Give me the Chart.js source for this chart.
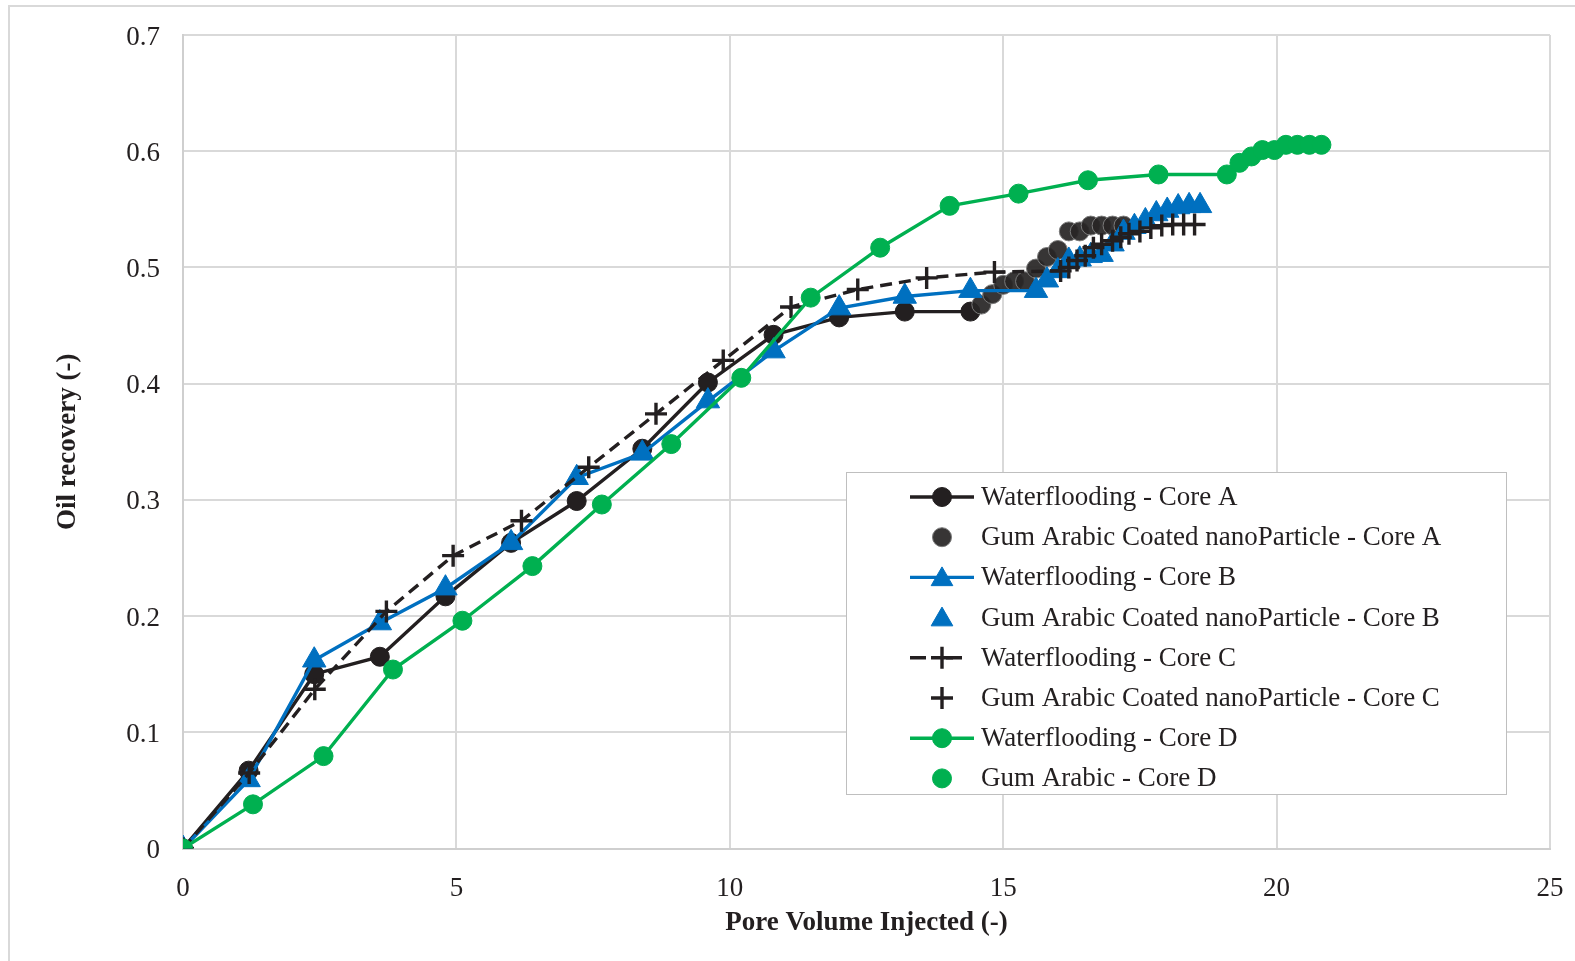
<!DOCTYPE html>
<html>
<head>
<meta charset="utf-8">
<title>Oil recovery vs pore volume injected</title>
<script src="https://cdn.jsdelivr.net/npm/chart.js@4.4.1/dist/chart.umd.min.js"></script>
<style>
    html, body { margin: 0; padding: 0; background: #ffffff; }
    #grafico { display: block; }
</style>
</head>
<body>
<canvas id="grafico" width="1575" height="961"></canvas>
<script>
// series labels (legend order)
const etiquetas = [
    "Waterflooding - Core A",
    "Gum Arabic Coated nanoParticle - Core A",
    "Waterflooding - Core B",
    "Gum Arabic Coated nanoParticle - Core B",
    "Waterflooding - Core C",
    "Gum Arabic Coated nanoParticle - Core C",
    "Waterflooding - Core D",
    "Gum Arabic - Core D"
];

// Core A
const wfA_x = [0, 1.2, 2.4, 3.6, 4.8, 6.0, 7.2, 8.4, 9.6, 10.8, 12.0, 13.2, 14.4];
const wfA_y = [0, 0.067, 0.150, 0.165, 0.217, 0.263, 0.299, 0.344, 0.401, 0.442, 0.457, 0.462, 0.462];
const gaA_x = [14.6, 14.8, 15.0, 15.2, 15.4, 15.6, 15.8, 16.0, 16.2, 16.4, 16.6, 16.8, 17.0, 17.2];
const gaA_y = [0.468, 0.477, 0.485, 0.488, 0.488, 0.499, 0.509, 0.515, 0.531, 0.531, 0.536, 0.536, 0.536, 0.536];

// Core B
const wfB_x = [0, 1.2, 2.4, 3.6, 4.8, 6.0, 7.2, 8.4, 9.6, 10.8, 12.0, 13.2, 14.4, 15.6];
const wfB_y = [0, 0.059, 0.162, 0.194, 0.224, 0.263, 0.319, 0.340, 0.385, 0.428, 0.465, 0.475, 0.480, 0.480];
const gaB_x = [15.8, 16.0, 16.2, 16.4, 16.6, 16.8, 17.0, 17.2, 17.4, 17.6, 17.8, 18.0, 18.2, 18.4, 18.6];
const gaB_y = [0.489, 0.497, 0.506, 0.507, 0.510, 0.511, 0.520, 0.530, 0.535, 0.540, 0.546, 0.549, 0.552, 0.553, 0.553];

// Core C
const wfC_x = [0, 1.21, 2.41, 3.72, 4.94, 6.19, 7.42, 8.65, 9.88, 11.12, 12.34, 13.6, 14.84, 16.05];
const wfC_y = [0, 0.065, 0.137, 0.204, 0.252, 0.282, 0.328, 0.374, 0.420, 0.466, 0.481, 0.491, 0.496, 0.497];
const gaC_x = [16.2, 16.35, 16.5, 16.65, 16.8, 17.0, 17.15, 17.3, 17.5, 17.7, 17.9, 18.1, 18.3, 18.5];
const gaC_y = [0.500, 0.506, 0.510, 0.517, 0.520, 0.523, 0.526, 0.529, 0.531, 0.534, 0.536, 0.537, 0.537, 0.537];

// Core D
const wfD_x = [0, 1.28, 2.57, 3.84, 5.11, 6.39, 7.66, 8.93, 10.21, 11.48, 12.75, 14.02, 15.28, 16.55, 17.84, 19.09];
const wfD_y = [0, 0.038, 0.0795, 0.154, 0.196, 0.243, 0.296, 0.348, 0.405, 0.474, 0.517, 0.553, 0.5635, 0.575, 0.580, 0.580];
const gaD_x = [19.32, 19.54, 19.74, 19.96, 20.17, 20.38, 20.60, 20.82];
const gaD_y = [0.590, 0.5955, 0.601, 0.601, 0.6055, 0.6055, 0.6055, 0.6055];

// axis ticks
const xTicks = [0, 5, 10, 15, 20, 25];
const yTicks = ["0", "0.1", "0.2", "0.3", "0.4", "0.5", "0.6", "0.7"];

const NEGRO = "#231f20";
const AZUL = "#0070c0";
const VERDE = "#00b050";
const GRIS = "#d9d9d9";
const FUENTE = "'Liberation Serif', 'Times New Roman', serif";

function puntos(xs, ys) {
    return xs.map((x, i) => ({ x: x, y: ys[i] }));
}

function serie(i, xs, ys, estilo) {
    return Object.assign({
        label: etiquetas[i],
        data: puntos(xs, ys),
        order: 10 - i,
        showLine: false,
        borderWidth: 3.4,
        pointBorderWidth: 1
    }, estilo);
}

const datasets = [
    serie(0, wfA_x, wfA_y, {
        showLine: true, borderColor: NEGRO, backgroundColor: NEGRO,
        pointStyle: "circle", pointRadius: 9.5, pointBackgroundColor: NEGRO, pointBorderColor: NEGRO
    }),
    serie(1, gaA_x, gaA_y, {
        borderColor: "#6b6b6b", backgroundColor: "rgba(40,38,38,0.93)",
        pointStyle: "circle", pointRadius: 9.5, pointBackgroundColor: "rgba(40,38,38,0.93)", pointBorderColor: "#7a7a7a"
    }),
    serie(2, wfB_x, wfB_y, {
        showLine: true, borderColor: AZUL, backgroundColor: AZUL,
        pointStyle: "triangle", pointRadius: 13.5, pointBackgroundColor: AZUL, pointBorderColor: AZUL
    }),
    serie(3, gaB_x, gaB_y, {
        borderColor: AZUL, backgroundColor: AZUL,
        pointStyle: "triangle", pointRadius: 13.5, pointBackgroundColor: AZUL, pointBorderColor: AZUL
    }),
    serie(4, wfC_x, wfC_y, {
        showLine: true, borderColor: NEGRO, backgroundColor: NEGRO, borderDash: [12, 7],
        pointStyle: "cross", pointRadius: 11, pointBorderWidth: 3.4, pointBorderColor: NEGRO
    }),
    serie(5, gaC_x, gaC_y, {
        borderColor: NEGRO, backgroundColor: NEGRO,
        pointStyle: "cross", pointRadius: 11, pointBorderWidth: 3.4, pointBorderColor: NEGRO
    }),
    serie(6, wfD_x, wfD_y, {
        showLine: true, borderColor: VERDE, backgroundColor: VERDE,
        pointStyle: "circle", pointRadius: 9.5, pointBackgroundColor: VERDE, pointBorderColor: VERDE
    }),
    serie(7, gaD_x, gaD_y, {
        borderColor: VERDE, backgroundColor: VERDE,
        pointStyle: "circle", pointRadius: 9.5, pointBackgroundColor: VERDE, pointBorderColor: VERDE
    })
];

// marco exterior (solo lados izquierdo y superior visibles)
const marco = {
    id: "marco",
    beforeDraw(chart) {
        const ctx = chart.ctx;
        ctx.save();
        ctx.fillStyle = "#ffffff";
        ctx.fillRect(0, 0, chart.width, chart.height);
        ctx.strokeStyle = GRIS;
        ctx.lineWidth = 2;
        ctx.beginPath();
        ctx.moveTo(9, chart.height + 5);
        ctx.lineTo(9, 6);
        ctx.lineTo(chart.width + 5, 6);
        ctx.stroke();
        ctx.restore();
    }
};

// leyenda dentro del área de trazado
const leyenda = {
    id: "leyenda",
    afterDraw(chart) {
        const ctx = chart.ctx;
        const box = { x: 846, y: 472, w: 660, h: 322 };
        ctx.save();
        ctx.fillStyle = "#ffffff";
        ctx.fillRect(box.x, box.y, box.w, box.h);
        ctx.strokeStyle = "#bfbfbf";
        ctx.lineWidth = 1;
        ctx.strokeRect(box.x + 0.5, box.y + 0.5, box.w, box.h);

        ctx.font = "27px " + FUENTE;
        ctx.textBaseline = "middle";
        chart.data.datasets.forEach((ds, i) => {
            const y = 497 + i * 40.2;
            const cx = 942;
            if (ds.showLine) {
                ctx.strokeStyle = ds.borderColor;
                ctx.lineWidth = 3.4;
                ctx.setLineDash(ds.borderDash ? [16, 20] : []);
                ctx.beginPath();
                ctx.moveTo(910, y);
                ctx.lineTo(974, y);
                ctx.stroke();
                ctx.setLineDash([]);
            }
            ctx.fillStyle = ds.pointBackgroundColor || ds.borderColor;
            ctx.strokeStyle = ds.pointBorderColor;
            ctx.lineWidth = ds.pointBorderWidth;
            Chart.helpers.drawPoint(ctx, {
                pointStyle: ds.pointStyle,
                radius: ds.pointStyle === "triangle" ? 12.5 : ds.pointRadius,
                rotation: 0,
                borderWidth: ds.pointBorderWidth
            }, cx, ds.pointStyle === "triangle" ? y + 2 : y);
            ctx.fillStyle = NEGRO;
            ctx.fillText(ds.label, 981, y + 1);
        });
        ctx.restore();
    }
};

const ctx = document.getElementById("grafico").getContext("2d");

new Chart(ctx, {
    type: "scatter",
    data: { datasets: datasets },
    plugins: [marco, leyenda],
    options: {
        responsive: false,
        animation: false,
        layout: { padding: { left: 0, top: 35, right: 25, bottom: 0 } },
        plugins: {
            legend: { display: false },
            tooltip: { enabled: false }
        },
        elements: {
            line: { tension: 0 }
        },
        scales: {
            x: {
                type: "linear",
                min: 0,
                max: 25,
                afterBuildTicks: (scale) => { scale.ticks = xTicks.map(v => ({ value: v })); },
                afterFit: (scale) => {
                    scale.height = 112.5;
                    scale.paddingLeft = 0;
                    scale.paddingRight = 0;
                },
                grid: { color: GRIS, lineWidth: 2, drawTicks: false },
                border: { color: "#cfcfcf", width: 2 },
                ticks: {
                    padding: 24,
                    color: NEGRO,
                    font: { family: FUENTE, size: 27 },
                    callback: (v) => String(v)
                },
                title: {
                    display: true,
                    text: "Pore Volume Injected (-)",
                    color: NEGRO,
                    font: { family: FUENTE, size: 27, weight: "bold" },
                    padding: { top: 0, bottom: 22 }
                }
            },
            y: {
                type: "linear",
                min: 0,
                max: 0.7,
                afterBuildTicks: (scale) => { scale.ticks = yTicks.map(t => ({ value: parseFloat(t) })); },
                afterFit: (scale) => {
                    scale.width = 183;
                    scale.paddingTop = 0;
                    scale.paddingBottom = 0;
                },
                grid: { color: GRIS, lineWidth: 2, drawTicks: false },
                border: { color: "#cfcfcf", width: 2 },
                ticks: {
                    padding: 23,
                    labelOffset: 2.5,
                    color: NEGRO,
                    font: { family: FUENTE, size: 27 },
                    callback: (v, i) => yTicks[i]
                },
                title: {
                    display: true,
                    text: "Oil recovery (-)",
                    color: NEGRO,
                    font: { family: FUENTE, size: 27, weight: "bold" },
                    padding: { top: 52, bottom: 0 }
                }
            }
        }
    }
});
</script>
</body>
</html>
